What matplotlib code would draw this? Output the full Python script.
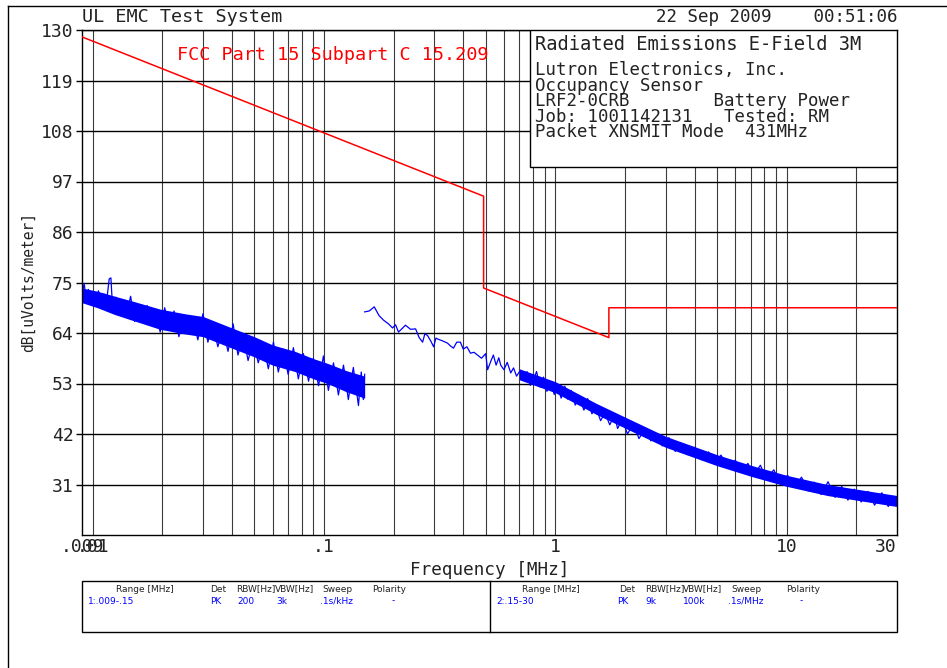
import matplotlib
matplotlib.use('Agg')
import matplotlib.pyplot as plt
from matplotlib.patches import Rectangle
from matplotlib.lines import Line2D

# FCC 15.209 limit (MHz, dBuV/m)
limit_f = [0.009, 0.49, 0.49, 1.705, 1.705, 30.0]
limit_db = [128.5, 93.8, 73.8, 63.0, 69.5, 69.5]

# range 1: 9 kHz - 150 kHz, dense core of the noise band
band1_f = [0.009, 0.0105, 0.0125, 0.015, 0.0196, 0.025, 0.030, 0.0405, 0.050,
           0.060, 0.075, 0.0903, 0.1035, 0.125, 0.15]
band1_hi = [73.8, 73.1, 72.0, 70.9, 69.2, 68.2, 67.6, 65.0, 63.2,
            61.4, 60.0, 58.4, 57.4, 55.8, 54.6]
band1_lo = [70.6, 69.5, 68.0, 66.7, 64.8, 63.8, 63.2, 60.6, 58.8,
            57.0, 55.6, 54.0, 53.0, 51.2, 49.8]

# range 1 trace peaks/dips
trace1_f = [0.0090, 0.0092, 0.0094, 0.0096, 0.0098, 0.0100, 0.0103, 0.0106, 0.0109,
            0.0112, 0.0115, 0.0118, 0.0120, 0.0122, 0.0126, 0.0130, 0.0135, 0.0140,
            0.0146, 0.0152, 0.0158, 0.0165, 0.0172, 0.0180, 0.0188, 0.0196, 0.0205,
            0.0214, 0.0225, 0.0236, 0.0248, 0.0260, 0.0272, 0.0285, 0.0300, 0.0315,
            0.0330, 0.0348, 0.0365, 0.0385, 0.0405, 0.0425, 0.0448, 0.0470, 0.0495,
            0.0520, 0.0548, 0.0575, 0.0605, 0.0635, 0.0668, 0.0700, 0.0738, 0.0775,
            0.0815, 0.0858, 0.0900, 0.0948, 0.0995, 0.1045, 0.1100, 0.1155, 0.1215,
            0.1275, 0.1340, 0.1410, 0.1450, 0.1480, 0.1500]
trace1_db = [72.5, 74.8, 70.8, 73.5, 70.2, 72.8, 69.8, 73.2, 70.0,
             72.5, 71.0, 75.8, 76.0, 69.5, 71.8, 68.6, 71.0, 67.8,
             72.0, 66.5, 69.5, 67.0, 70.0, 66.0, 68.5, 64.2, 69.5,
             65.0, 68.8, 63.2, 68.0, 64.0, 67.5, 62.5, 68.2, 62.0,
             66.0, 61.0, 65.0, 60.0, 66.0, 59.2, 63.5, 58.0, 62.5,
             57.5, 61.5, 56.2, 62.0, 55.5, 60.5, 55.0, 60.8, 54.0,
             59.5, 53.5, 58.5, 52.5, 59.0, 51.5, 57.5, 50.5, 57.0,
             49.5, 56.5, 48.2, 55.5, 49.5, 55.0]

# range 2: 150 kHz - 30 MHz
band2_f = [0.7, 1.0, 1.5, 2.0, 3.0, 5.0, 7.0, 10.0, 15.0, 20.0, 30.0]
band2_hi = [56.2, 53.4, 48.7, 45.7, 41.5, 37.5, 35.2, 33.0, 31.0, 30.0, 28.6]
band2_lo = [53.8, 51.0, 46.3, 43.3, 39.1, 35.1, 32.8, 30.6, 28.6, 27.6, 26.2]

trace2_f = [0.150, 0.157, 0.165, 0.173, 0.181, 0.190, 0.198, 0.204, 0.210, 0.218,
            0.225, 0.237, 0.249, 0.258, 0.267, 0.273, 0.280, 0.290, 0.298, 0.305,
            0.310, 0.325, 0.342, 0.352, 0.363, 0.375, 0.389, 0.400, 0.415, 0.430,
            0.445, 0.461, 0.480, 0.500, 0.510, 0.525, 0.540, 0.555, 0.570, 0.581,
            0.600, 0.620, 0.642, 0.660, 0.680, 0.705, 0.731, 0.755, 0.780, 0.807,
            0.830, 0.860, 0.890, 0.920, 0.956, 0.990, 1.020, 1.060, 1.100, 1.130,
            1.170, 1.220, 1.270, 1.330, 1.380, 1.440, 1.500, 1.570, 1.640, 1.720,
            1.800, 1.860, 1.950, 2.050, 2.180, 2.300, 2.450, 2.590, 2.750, 2.900,
            3.100, 3.300, 3.500, 3.740, 4.000, 4.300, 4.600, 4.900, 5.200, 5.600,
            6.000, 6.400, 6.800, 7.230, 7.700, 8.200, 8.800, 9.400, 10.10, 10.80,
            11.60, 12.40, 13.20, 14.10, 15.10, 16.20, 17.30, 18.40, 19.60, 21.00,
            22.50, 24.00, 25.80, 27.50, 29.00, 30.00]
trace2_db = [68.6, 68.8, 69.7, 67.8, 66.8, 66.0, 65.1, 65.8, 64.2, 65.0,
             65.7, 64.8, 64.9, 63.0, 62.0, 63.8, 63.5, 62.2, 61.0, 62.9,
             62.7, 62.3, 61.8, 61.2, 60.7, 62.0, 62.0, 60.5, 61.0, 59.6,
             59.8, 59.2, 58.5, 59.5, 56.0, 57.7, 59.2, 57.0, 58.6, 57.0,
             56.0, 57.6, 55.3, 56.4, 54.6, 55.8, 54.2, 55.6, 52.6, 54.0,
             55.6, 52.2, 54.4, 51.3, 53.2, 50.6, 52.8, 49.8, 52.4, 49.6,
             51.5, 48.3, 49.9, 47.2, 49.7, 46.4, 47.8, 44.9, 46.6, 44.0,
             46.0, 43.2, 45.3, 42.0, 44.2, 41.0, 43.2, 40.5, 42.0, 39.4,
             41.2, 38.2, 40.0, 37.5, 39.1, 36.4, 38.1, 35.4, 37.4, 34.6,
             36.3, 33.8, 35.6, 33.0, 35.2, 32.2, 34.2, 31.2, 33.0, 30.4,
             32.6, 29.6, 31.5, 28.8, 31.6, 28.2, 30.6, 27.6, 30.0, 27.2,
             29.5, 26.5, 29.2, 26.2, 28.4, 26.5]

y_ticks = [31, 42, 53, 64, 75, 86, 97, 108, 119, 130]
x_ticks = [0.009, 0.01, 0.1, 1, 10, 30]
x_labels = ['.009', '.01', '.1', '1', '10', '30']

info_lines = ['Lutron Electronics, Inc.',
              'Occupancy Sensor',
              'LRF2-0CRB        Battery Power',
              'Job: 1001142131   Tested: RM',
              'Packet XNSMIT Mode  431MHz']

W, H = 947, 668
TXT = '#222222'
MONO = 'DejaVu Sans Mono'
plt.rcParams['font.family'] = ['DejaVu Sans']


def fx(x):
    return x / W


def fy(y):
    return 1 - y / H


def main():
    fig = plt.figure(figsize=(W / 100, H / 100), dpi=100)
    ax = fig.add_axes([fx(82), fy(535), (897 - 82) / W, (535 - 30) / H])
    ax.set_xscale('log')
    ax.set_xlim(0.009, 30)
    ax.set_ylim(20, 130)

    # grid: every 1..9 per decade, horizontal at the ticks
    for dec in [0.01, 0.1, 1, 10]:
        for m in range(1, 10):
            v = dec * m
            if v < 30:
                ax.axvline(v, color='#3c3c3c', lw=0.8, zorder=1)
    for t in y_ticks:
        ax.axhline(t, color='black', lw=1.0, zorder=1)

    ax.plot(limit_f, limit_db, color='red', lw=1.1, zorder=3)
    ax.text(0.0232, 124.6, 'FCC Part 15 Subpart C 15.209', color='red',
            fontsize=13.3, family=MONO, va='center', zorder=4)

    ax.fill_between(band1_f, band1_lo, band1_hi, color='blue', lw=0, zorder=2)
    ax.plot(trace1_f, trace1_db, color='blue', lw=0.9, zorder=2)
    ax.fill_between(band2_f, band2_lo, band2_hi, color='blue', lw=0, zorder=2)
    ax.plot(trace2_f, trace2_db, color='blue', lw=0.9, zorder=2)

    ax.set_yticks(y_ticks)
    ax.set_yticklabels([str(t) for t in y_ticks], fontsize=13, family=MONO, color=TXT)
    ax.tick_params(axis='y', length=4, width=1, pad=2)
    ax.set_xticks(x_ticks)
    ax.set_xticklabels(x_labels, fontsize=13, family=MONO, color=TXT)
    ax.minorticks_off()
    ax.tick_params(axis='x', length=0, pad=2)
    ax.get_xticklabels()[-1].set_ha('right')
    for s in ax.spines.values():
        s.set_linewidth(1.0)

    ax.set_xlabel('Frequency [MHz]', fontsize=12.7, family=MONO, color=TXT, labelpad=4)
    ax.set_ylabel('dB[uVolts/meter]', fontsize=10.5, family=MONO, color=TXT, labelpad=4)

    # info box
    ax.add_patch(Rectangle((0.5497, 0.7287), 0.4503, 0.2713, transform=ax.transAxes,
                           facecolor='white', edgecolor='black', lw=1.0, zorder=5))
    fig.text(fx(535), fy(45), 'Radiated Emissions E-Field 3M', fontsize=13.5,
             family=MONO, color=TXT, va='center', zorder=6)
    fig.text(fx(535), fy(61), '\n'.join(info_lines), fontsize=12.5, family=MONO,
             color=TXT, va='top', linespacing=0.83, zorder=6)

    fig.text(fx(82), fy(17), 'UL EMC Test System', fontsize=13.3, family=MONO,
             color=TXT, va='center')
    fig.text(fx(897), fy(17), '22 Sep 2009    00:51:06', fontsize=12.6, family=MONO,
             color=TXT, va='center', ha='right')

    # page frame
    fig.add_artist(Line2D([fx(8), fx(8)], [0, fy(6)], color='black', lw=1.0))
    fig.add_artist(Line2D([fx(8), 1], [fy(6), fy(6)], color='black', lw=1.0))

    # settings table
    fig.add_artist(Rectangle((fx(82), fy(632)), (897 - 82) / W, (632 - 581) / H,
                             transform=fig.transFigure, fill=False,
                             edgecolor='black', lw=1.0))
    fig.add_artist(Line2D([fx(490), fx(490)], [fy(632), fy(581)], color='black', lw=1.0))
    heads = [(116, 'Range [MHz]'), (210, 'Det'), (236, 'RBW[Hz]'), (275, 'VBW[Hz]'),
             (322, 'Sweep'), (372, 'Polarity'),
             (522, 'Range [MHz]'), (619, 'Det'), (645, 'RBW[Hz]'), (683, 'VBW[Hz]'),
             (731, 'Sweep'), (786, 'Polarity')]
    for x, s in heads:
        fig.text(fx(x), fy(589), s, fontsize=6.5, color=TXT, va='center')
    vals = [(88, '1:.009-.15'), (210, 'PK'), (237, '200'), (276, '3k'),
            (320, '.1s/kHz'), (392, '-'),
            (496, '2:.15-30'), (617, 'PK'), (645, '9k'), (683, '100k'),
            (728, '.1s/MHz'), (800, '-')]
    for x, s in vals:
        fig.text(fx(x), fy(601), s, fontsize=6.5, color='blue', va='center')

    plt.savefig('out.png', dpi=100)


if __name__ == "__main__":
    main()
